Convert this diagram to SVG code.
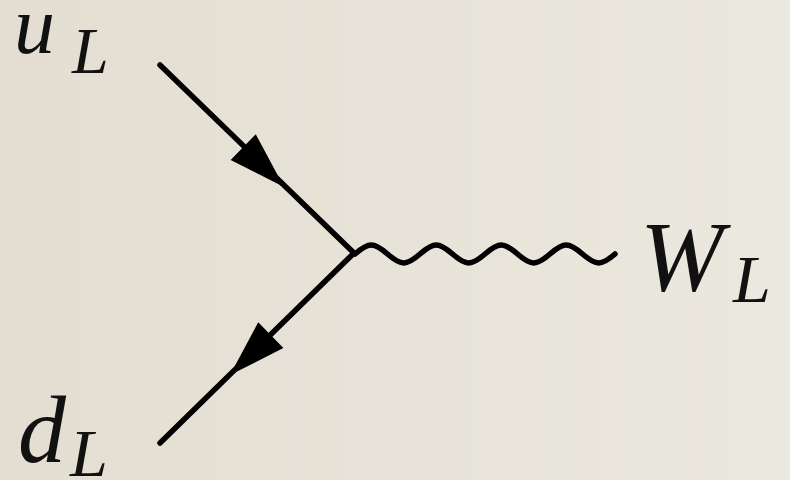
<svg xmlns="http://www.w3.org/2000/svg" width="790" height="480" viewBox="0 0 790 480">
<defs>
<linearGradient id="bg" x1="0" y1="0" x2="1" y2="0">
<stop offset="0" stop-color="#e3ded1"/>
<stop offset="1" stop-color="#ebe8df"/>
</linearGradient>
<path id="arrow" d="M0,0 L-57,-18 L-57,18 Z"/>
<style>
.line{fill:none;stroke:#000;stroke-width:5.5;stroke-linecap:round;stroke-linejoin:round}
.head{fill:#000}
.lbl{font-family:"Liberation Serif","Times New Roman",serif;font-style:italic;fill:#111}
</style>
</defs>
<rect width="790" height="480" fill="url(#bg)"/>
<g id="connectors">
<g id="u-line">
<line class="line" x1="160" y1="65" x2="354" y2="253"/>
<use href="#arrow" class="head" transform="translate(284,187) rotate(44.3)"/>
</g>
<g id="d-line">
<line class="line" x1="354" y1="253" x2="160" y2="443"/>
<use href="#arrow" class="head" transform="translate(230,375) rotate(135.7)"/>
</g>
<path id="w-line" class="line" d="M355,254 c5.3,-4.6 10.63,-9 16.25,-9 s10.95,4.4 16.25,9 s10.63,9 16.25,9 s10.95,-4.4 16.25,-9 s10.63,-9 16.25,-9 s10.95,4.4 16.25,9 s10.63,9 16.25,9 s10.95,-4.4 16.25,-9 s10.63,-9 16.25,-9 s10.95,4.4 16.25,9 s10.63,9 16.25,9 s10.95,-4.4 16.25,-9 s10.63,-9 16.25,-9 s10.95,4.4 16.25,9 s10.63,9 16.25,9 s10.95,-4.4 16.25,-9"/>
</g>
<g id="uL">
<text class="lbl" x="14" y="53" font-size="82">u</text>
<text class="lbl" x="72" y="73" font-size="66">L</text>
</g>
<g id="dL">
<text class="lbl" x="18" y="462" font-size="96">d</text>
<text class="lbl" x="70" y="476" font-size="68">L</text>
</g>
<g id="WL">
<text class="lbl" x="640" y="290" font-size="100">W</text>
<text class="lbl" x="733" y="302" font-size="68">L</text>
</g>
</svg>
